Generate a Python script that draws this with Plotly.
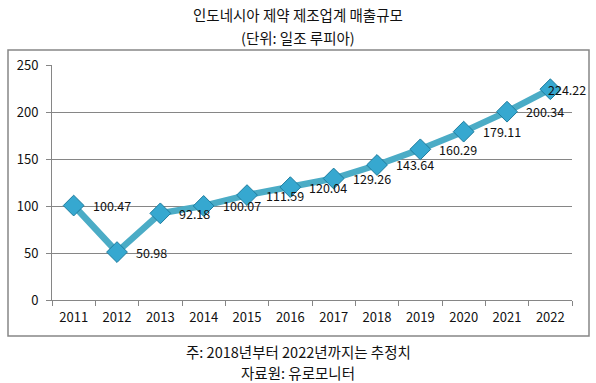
import plotly.graph_objects as go

years = ["2011", "2012", "2013", "2014", "2015", "2016", "2017", "2018", "2019", "2020", "2021", "2022"]
sales = [100.47, 50.98, 92.18, 100.07, 111.59, 120.04, 129.26, 143.64, 160.29, 179.11, 200.34, 224.22]
labels = [f"{v:.2f}" for v in sales]
label_shift = [17, 17, 17, 17, 17, 17, 17, 17, 17, 17, 17, -4]

title1 = "인도네시아 제약 제조업계 매출규모"
title2 = "(단위: 일조 루피아)"
note1 = "주: 2018년부터 2022년까지는 추정치"
note2 = "자료원: 유로모니터"

FONT = "Noto Sans CJK KR, Malgun Gothic, sans-serif"
TXT = "#111111"

fig = go.Figure()
fig.add_trace(go.Scatter(
    x=years, y=sales, mode="lines+markers",
    line=dict(color="#4BACC6", width=6.5),
    marker=dict(symbol="diamond", size=16, color="#36A8D0",
                line=dict(color="#1E7C9E", width=1)),
    cliponaxis=False,
    showlegend=False,
    hoverinfo="skip",
))

W, H = 596, 383
L, R, T, B = 52, 24, 65, 83
pw = W - L - R
ph = H - T - B

def px(x):
    return (x - L) / pw

def py(y):
    return (H - B - y) / ph

annotations = []
for i, (v, lab, sh) in enumerate(zip(sales, labels, label_shift)):
    annotations.append(dict(x=i, y=v, text=lab, xref="x", yref="y", showarrow=False,
                            xanchor="left", yanchor="middle", xshift=sh,
                            font=dict(family=FONT, size=12.5, color=TXT)))

for txt, yy in [(title1, 14), (title2, 38), (note1, 351), (note2, 372)]:
    annotations.append(dict(text=txt, xref="paper", yref="paper", x=px(298), y=py(yy), showarrow=False,
                            xanchor="center", yanchor="middle", borderpad=0,
                            font=dict(family=FONT, size=14.5, color=TXT)))

fig.update_layout(
    width=W, height=H,
    margin=dict(l=L, r=R, t=T, b=B),
    paper_bgcolor="white", plot_bgcolor="white",
    font=dict(family=FONT, size=13, color=TXT),
    xaxis=dict(
        type="category", range=[-0.5, 11.5],
        showgrid=False, showline=True, linecolor="#868686", linewidth=1,
        ticks="outside", ticklen=5, tickcolor="#868686", tickson="boundaries",
        tickfont=dict(family=FONT, size=13, color=TXT), ticklabelstandoff=5,
    ),
    yaxis=dict(
        range=[0, 250], tickvals=[0, 50, 100, 150, 200, 250],
        showgrid=True, gridcolor="#868686", gridwidth=1,
        showline=True, linecolor="#868686", linewidth=1,
        ticks="outside", ticklen=5, tickcolor="#868686",
        tickfont=dict(family=FONT, size=13, color=TXT), ticklabelstandoff=5,
        zeroline=False,
    ),
    shapes=[dict(type="rect", xref="paper", yref="paper",
                 x0=px(8), x1=px(589), y0=py(336), y1=py(50),
                 line=dict(color="#868686", width=1.5), fillcolor="rgba(0,0,0,0)", layer="below")],
    annotations=annotations,
)

fig.write_html("out.html", config={"displayModeBar": False},
               post_script="document.body.style.margin='0';")
